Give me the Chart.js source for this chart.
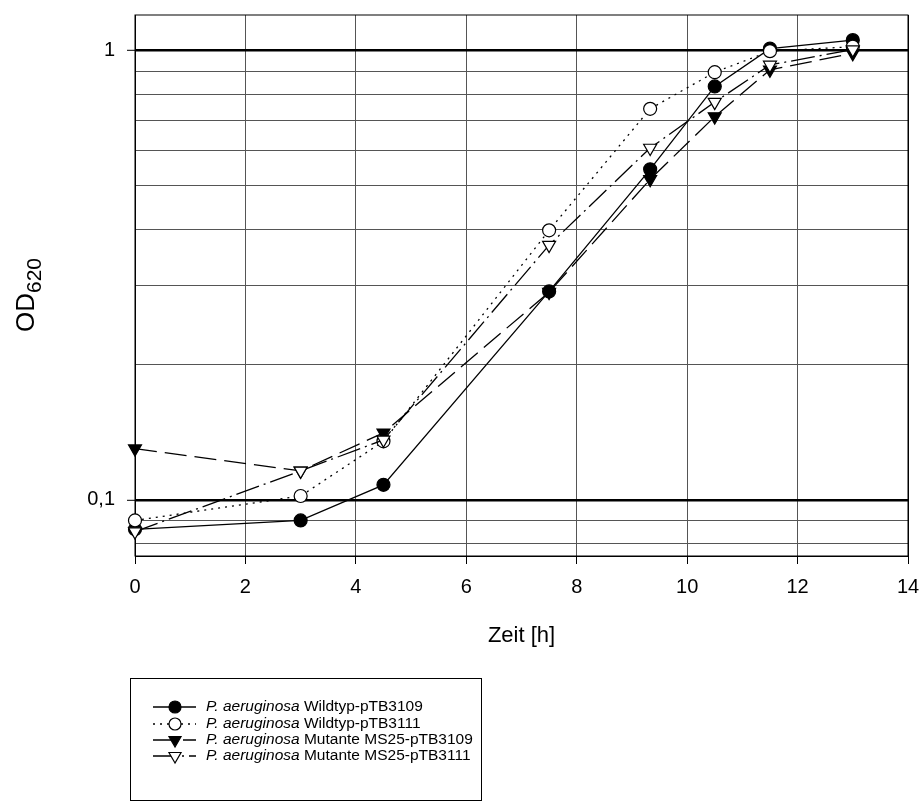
<!DOCTYPE html>
<html>
<head>
<meta charset="utf-8">
<title>OD620 Wachstumskurven</title>
<script src="https://cdn.jsdelivr.net/npm/chart.js"></script>
<style>
  html, body { margin: 0; padding: 0; background: #fff; }
  #wrap { width: 922px; height: 809px; position: relative; }
</style>
</head>
<body>
<div id="wrap"><canvas id="growth"></canvas></div>
<script>
const timeH = [0, 3, 4.5, 7.5, 9.33, 10.5, 11.5, 13];
const wt3109 = [0.086, 0.090, 0.108, 0.291, 0.544, 0.832, 1.01, 1.055];
const wt3111 = [0.090, 0.102, 0.135, 0.398, 0.742, 0.895, 0.997, 1.02];
const ms3109 = [0.130, 0.116, 0.141, 0.290, 0.517, 0.713, 0.906, 0.986];
const ms3111 = [0.085, 0.116, 0.136, 0.369, 0.607, 0.768, 0.929, 1.005];

const seriesNames = ['Wildtyp-pTB3109', 'Wildtyp-pTB3111', 'Mutante MS25-pTB3109', 'Mutante MS25-pTB3111'];
const yTicks = [0.08, 0.09, 0.1, 0.2, 0.3, 0.4, 0.5, 0.6, 0.7, 0.8, 0.9, 1];
const yLabels = { 0.1: '0,1', 1: '1' };

const FONT = "'Liberation Sans', Arial, sans-serif";

function toPoints(ys) {
    return timeH.map((t, i) => ({ x: t, y: ys[i] }));
}

function series(ys, opts) {
    return Object.assign({
        data: toPoints(ys),
        borderColor: '#000',
        borderWidth: 1.3,
        pointBorderColor: '#000',
        pointBorderWidth: 1.2,
        tension: 0,
        clip: false
    }, opts);
}

const datasets = [
    series(wt3109, { label: seriesNames[0], pointStyle: 'circle', pointRadius: 6.5, pointBackgroundColor: '#000', borderDash: [], order: 4 }),
    series(wt3111, { label: seriesNames[1], pointStyle: 'circle', pointRadius: 6.5, pointBackgroundColor: '#fff', borderDash: [2, 5], order: 3 }),
    series(ms3109, { label: seriesNames[2], pointStyle: 'triangle', pointRadius: 7.5, pointRotation: 180, pointBackgroundColor: '#000', borderDash: [22, 8], order: 2 }),
    series(ms3111, { label: seriesNames[3], pointStyle: 'triangle', pointRadius: 7.5, pointRotation: 180, pointBackgroundColor: '#fff', borderDash: [24, 5, 2, 5], order: 1 })
];

// Rahmen, Achsentitel, Legende
const extras = {
    id: 'extras',
    beforeDatasetsDraw(chart) {
        const { ctx, chartArea: a } = chart;
        ctx.save();
        ctx.strokeStyle = '#000';
        ctx.lineWidth = 1;
        ctx.strokeRect(a.left, a.top, a.right - a.left, a.bottom - a.top);
        ctx.restore();
    },
    afterDraw(chart) {
        const { ctx, chartArea: a } = chart;
        ctx.save();
        ctx.fillStyle = '#000';

        // x title
        ctx.font = '22px ' + FONT;
        ctx.textAlign = 'center';
        ctx.textBaseline = 'middle';
        ctx.fillText('Zeit [h]', (a.left + a.right) / 2, 636);

        // y title with subscript
        ctx.save();
        ctx.translate(34, 332);
        ctx.rotate(-Math.PI / 2);
        ctx.textAlign = 'left';
        ctx.textBaseline = 'alphabetic';
        ctx.font = '26px ' + FONT;
        ctx.fillText('OD', 0, 0);
        const w = ctx.measureText('OD').width;
        ctx.font = '21px ' + FONT;
        ctx.fillText('620', w, 7);
        ctx.restore();

        // legend
        const box = { x: 130, y: 678, w: 351, h: 122 };
        ctx.strokeStyle = '#000';
        ctx.lineWidth = 1;
        ctx.strokeRect(box.x + 0.5, box.y + 0.5, box.w, box.h);
        const rowY = [707, 724, 740, 756];
        chart.data.datasets.forEach((ds, i) => {
            const y = rowY[i];
            ctx.save();
            ctx.strokeStyle = '#000';
            ctx.lineWidth = ds.borderWidth;
            ctx.setLineDash(ds.borderDash);
            ctx.beginPath();
            ctx.moveTo(153, y);
            ctx.lineTo(196, y);
            ctx.stroke();
            ctx.setLineDash([]);
            ctx.fillStyle = ds.pointBackgroundColor;
            ctx.lineWidth = ds.pointBorderWidth;
            Chart.helpers.drawPoint(ctx, {
                pointStyle: ds.pointStyle,
                radius: ds.pointRadius - 0.5,
                rotation: ds.pointRotation || 0,
                borderWidth: ds.pointBorderWidth
            }, 175, y);
            ctx.restore();

            ctx.textAlign = 'left';
            ctx.textBaseline = 'middle';
            ctx.fillStyle = '#000';
            ctx.font = 'italic 15.5px ' + FONT;
            const species = 'P. aeruginosa';
            ctx.fillText(species, 206, y);
            const sw = ctx.measureText(species + ' ').width;
            ctx.font = '15.5px ' + FONT;
            ctx.fillText(ds.label, 206 + sw, y);
        });
        ctx.restore();
    }
};

new Chart(document.getElementById('growth'), {
    type: 'line',
    data: { datasets: datasets },
    options: {
        responsive: true,
        maintainAspectRatio: false,
        animation: false,
        layout: { padding: { top: 15, right: 14, left: 0, bottom: 0 } },
        plugins: { legend: { display: false }, tooltip: { enabled: false } },
        scales: {
            x: {
                type: 'linear',
                min: 0,
                max: 14,
                ticks: { stepSize: 2, color: '#000', font: { size: 20, family: FONT }, padding: 11 },
                grid: {
                    color: ctx => (ctx.tick && (ctx.tick.value === 0 || ctx.tick.value === 14)) ? '#000' : '#555',
                    lineWidth: 1,
                    tickLength: 8,
                    tickColor: '#000'
                },
                border: { display: true, color: '#000', width: 1 },
                afterFit(scale) {
                    scale.height = 253;
                    scale.paddingLeft = 0;
                    scale.paddingRight = 0;
                }
            },
            y: {
                type: 'logarithmic',
                min: 0.075,
                max: 1.2,
                afterBuildTicks(scale) { scale.ticks = yTicks.map(v => ({ value: v })); },
                ticks: {
                    color: '#000',
                    font: { size: 20, family: FONT },
                    padding: 12,
                    autoSkip: false,
                    callback: v => yLabels[v] || ''
                },
                grid: {
                    color: ctx => (ctx.tick && yLabels[ctx.tick.value]) ? '#000' : '#555',
                    lineWidth: ctx => (ctx.tick && yLabels[ctx.tick.value]) ? 2.6 : 1,
                    tickLength: 8,
                    tickColor: ctx => (ctx.tick && yLabels[ctx.tick.value]) ? '#000' : 'rgba(0,0,0,0)',
                    tickWidth: 1
                },
                border: { display: true, color: '#000', width: 1 },
                afterFit(scale) {
                    scale.width = 135;
                    scale.paddingTop = 0;
                    scale.paddingBottom = 0;
                }
            }
        }
    },
    plugins: [extras]
});
</script>
</body>
</html>
